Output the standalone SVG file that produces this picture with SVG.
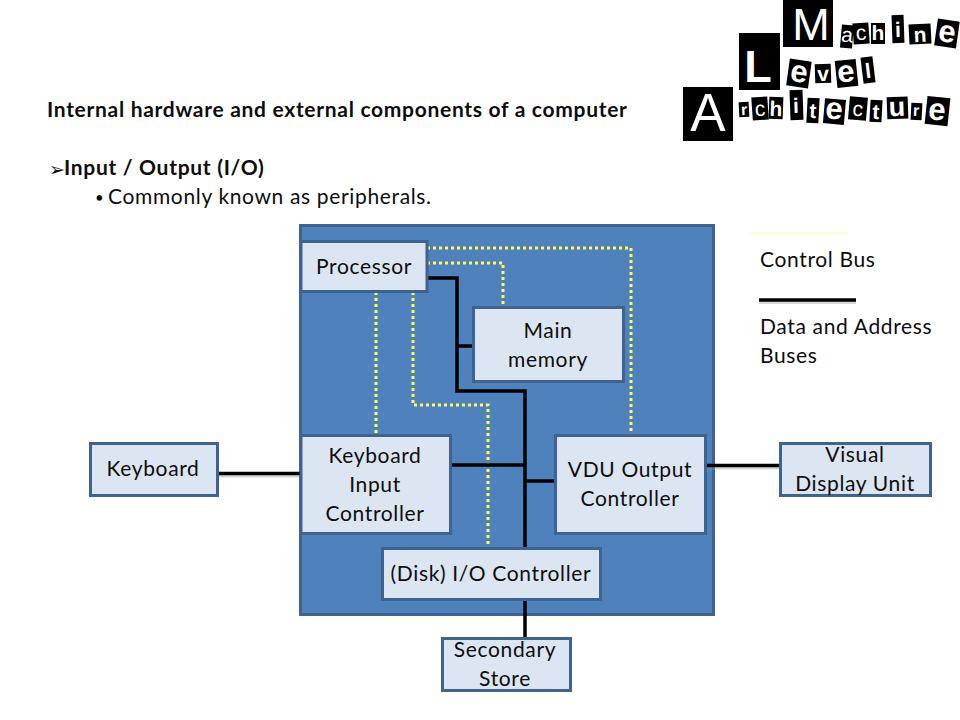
<svg xmlns="http://www.w3.org/2000/svg" width="960" height="720" viewBox="0 0 960 720">
<style>
text{font-family:"Lato","Liberation Sans",sans-serif;fill:#0d0d0d}
.t{font-size:21px;letter-spacing:.65px}
.m{text-anchor:middle}
.b{font-size:21px;font-weight:700;letter-spacing:.7px}
.box{fill:#dce6f2;stroke:#3f6391;stroke-width:3}
.k{fill:none;stroke:#000;stroke-width:3.500}
.y{fill:none;stroke:#ffff4d;stroke-width:3;stroke-dasharray:3 3}
.s{fill:none;stroke:#999;stroke-width:3;opacity:.4}
.lb{fill:#000}
.lt{font-family:"Liberation Sans",sans-serif;fill:#fff;text-anchor:middle;font-weight:700}
.ls{font-size:21px}.lm{font-size:31px}
</style>
<rect width="960" height="720" fill="#fff"/>
<g id="logo">
<rect class="lb" x="783" y="0" width="50" height="47"/><text class="lt" x="811" y="40" font-size="45" style="font-weight:400">M</text>
<rect class="lb" x="739" y="33" width="41" height="57"/><text class="lt" x="758" y="82" font-size="45">L</text>
<rect class="lb" x="683" y="87" width="50" height="54"/><text class="lt" x="708" y="131" font-size="53" style="font-weight:400">A</text>
<g transform="translate(847,36) rotate(5)"><rect class="lb" x="-6" y="-11" width="12" height="23"/><text class="lt ls" y="6" style="font-weight:400">a</text></g>
<g transform="translate(861,33) rotate(-4)"><rect class="lb" x="-8" y="-10" width="16" height="21"/><text class="lt ls" y="7" style="font-weight:400">c</text></g>
<g transform="translate(878,33)"><rect class="lb" x="-7" y="-10" width="14" height="21"/><text class="lt ls" y="7">h</text></g>
<g transform="translate(898,29) rotate(-2)"><rect class="lb" x="-6" y="-14" width="12" height="28"/><text class="lt ls" y="8">i</text></g>
<g transform="translate(920,34) rotate(-3)"><rect class="lb" x="-11" y="-10" width="22" height="20"/><text class="lt ls" y="8">n</text></g>
<g transform="translate(947,33) rotate(8)"><rect class="lb" x="-11" y="-13" width="22" height="27"/><text class="lt lm" y="9">e</text></g>
<g transform="translate(799,73) rotate(8)"><rect class="lb" x="-11" y="-13" width="22" height="27"/><text class="lt lm" y="9">e</text></g>
<g transform="translate(823,74) rotate(-2)"><rect class="lb" x="-8" y="-10" width="16" height="19"/><text class="lt ls" y="7">v</text></g>
<g transform="translate(846,73) rotate(-6)"><rect class="lb" x="-10" y="-13" width="21" height="27"/><text class="lt lm" y="9">e</text></g>
<g transform="translate(868,70) rotate(-7)"><rect class="lb" x="-6" y="-13" width="12" height="26"/><text class="lt ls" y="8">l</text></g>
<g transform="translate(744,110) rotate(-3)"><rect class="lb" x="-5" y="-8" width="10" height="15"/><text class="lt" y="5" font-size="16">r</text></g>
<g transform="translate(760,108) rotate(-4)"><rect class="lb" x="-8" y="-11" width="16" height="23"/><text class="lt ls" y="8" style="font-weight:400">c</text></g>
<g transform="translate(776,108) rotate(2)"><rect class="lb" x="-7" y="-11" width="14" height="22"/><text class="lt ls" y="8">h</text></g>
<g transform="translate(796,105) rotate(-2)"><rect class="lb" x="-6" y="-15" width="13" height="30"/><text class="lt ls" y="8">i</text></g>
<g transform="translate(813,110) rotate(3)"><rect class="lb" x="-6" y="-12" width="12" height="25"/><text class="lt ls" y="8">t</text></g>
<g transform="translate(834,111) rotate(5)"><rect class="lb" x="-10" y="-12" width="21" height="25"/><text class="lt lm" y="8">e</text></g>
<g transform="translate(858,108) rotate(5)"><rect class="lb" x="-9" y="-11" width="18" height="23"/><text class="lt ls" y="8" style="font-weight:400">c</text></g>
<g transform="translate(876,111) rotate(3)"><rect class="lb" x="-6" y="-11" width="12" height="22"/><text class="lt ls" y="8">t</text></g>
<g transform="translate(897,108) rotate(-2)"><rect class="lb" x="-10" y="-11" width="21" height="22"/><text class="lt" y="8" font-size="27">u</text></g>
<g transform="translate(916,111) rotate(3)"><rect class="lb" x="-5" y="-8" width="11" height="17"/><text class="lt" y="5" font-size="16">r</text></g>
<g transform="translate(937,111) rotate(6)"><rect class="lb" x="-11" y="-14" width="23" height="28"/><text class="lt lm" y="9">e</text></g>
</g>
<text id="title" class="b" x="47" y="117">Internal hardware and external components of a computer</text>
<text id="heading" class="b" x="64" y="175">Input / Output (I/O)</text>
<text x="49" y="176" style="font-family:'DejaVu Sans',sans-serif;font-size:19px">➢</text>
<text x="95" y="203" style="font-size:15px">•</text>
<text id="sub" class="t" x="108" y="204">Commonly known as peripherals.</text>
<rect id="computer" x="300.500" y="225.500" width="413" height="389" fill="#4f81bd" stroke="#3f6391" stroke-width="3"/>
<g id="connectors">
<path class="y" d="M427 248H631V435"/>
<path class="y" d="M427 263H503V306"/>
<path class="y" d="M376 292V435"/>
<path class="y" d="M413 292V405H488V548"/>
<path class="k" d="M427 278H457V391H525V548"/>
<path class="k" d="M457 346H473"/>
<path class="k" d="M451 465H525"/>
<path class="k" d="M525 481H555"/>
<path class="k" d="M525 600V638"/>
<path class="s" d="M218 476H300"/>
<path class="k" d="M218 473.500H300"/>
<path class="s" d="M706 468H780"/>
<path class="k" d="M706 465.500H780"/>
</g>
<g id="processor"><rect class="box" x="301" y="241.500" width="126" height="50"/><text class="t m" x="364" y="274">Processor</text></g>
<g id="main-memory"><rect class="box" x="473.500" y="307.500" width="150" height="74"/><text class="t m" x="548" y="338">Main</text><text class="t m" x="548" y="367">memory</text></g>
<g id="keyboard-controller"><rect class="box" x="301" y="435.500" width="149.500" height="98"/><text class="t m" x="375" y="463">Keyboard</text><text class="t m" x="375" y="492">Input</text><text class="t m" x="375" y="521">Controller</text></g>
<g id="vdu-controller"><rect class="box" x="555.500" y="435.500" width="150" height="98"/><text class="t m" x="630" y="477">VDU Output</text><text class="t m" x="630" y="506">Controller</text></g>
<g id="disk-controller"><rect class="box" x="382.500" y="548.500" width="218" height="51"/><text class="t m" x="491" y="581">(Disk) I/O Controller</text></g>
<g id="secondary-store"><rect class="box" x="442.500" y="638.500" width="128" height="52"/><text class="t m" x="505" y="657">Secondary</text><text class="t m" x="505" y="686">Store</text></g>
<g id="keyboard"><rect class="box" x="90.500" y="443.500" width="127" height="52"/><text class="t m" x="153" y="476">Keyboard</text></g>
<g id="visual-display"><rect class="box" x="780.500" y="443.500" width="150" height="52"/><text class="t m" x="855" y="462">Visual</text><text class="t m" x="855" y="491">Display Unit</text></g>
<g id="legend">
<path d="M750 233H847" fill="none" stroke="#ffffc4" stroke-width="1.500"/>
<path class="s" d="M759 302.500H856"/>
<path class="k" d="M759 300H856"/>
<text class="t" x="760" y="267">Control Bus</text>
<text class="t" x="760" y="334">Data and Address</text>
<text class="t" x="760" y="363">Buses</text>
</g>
</svg>
